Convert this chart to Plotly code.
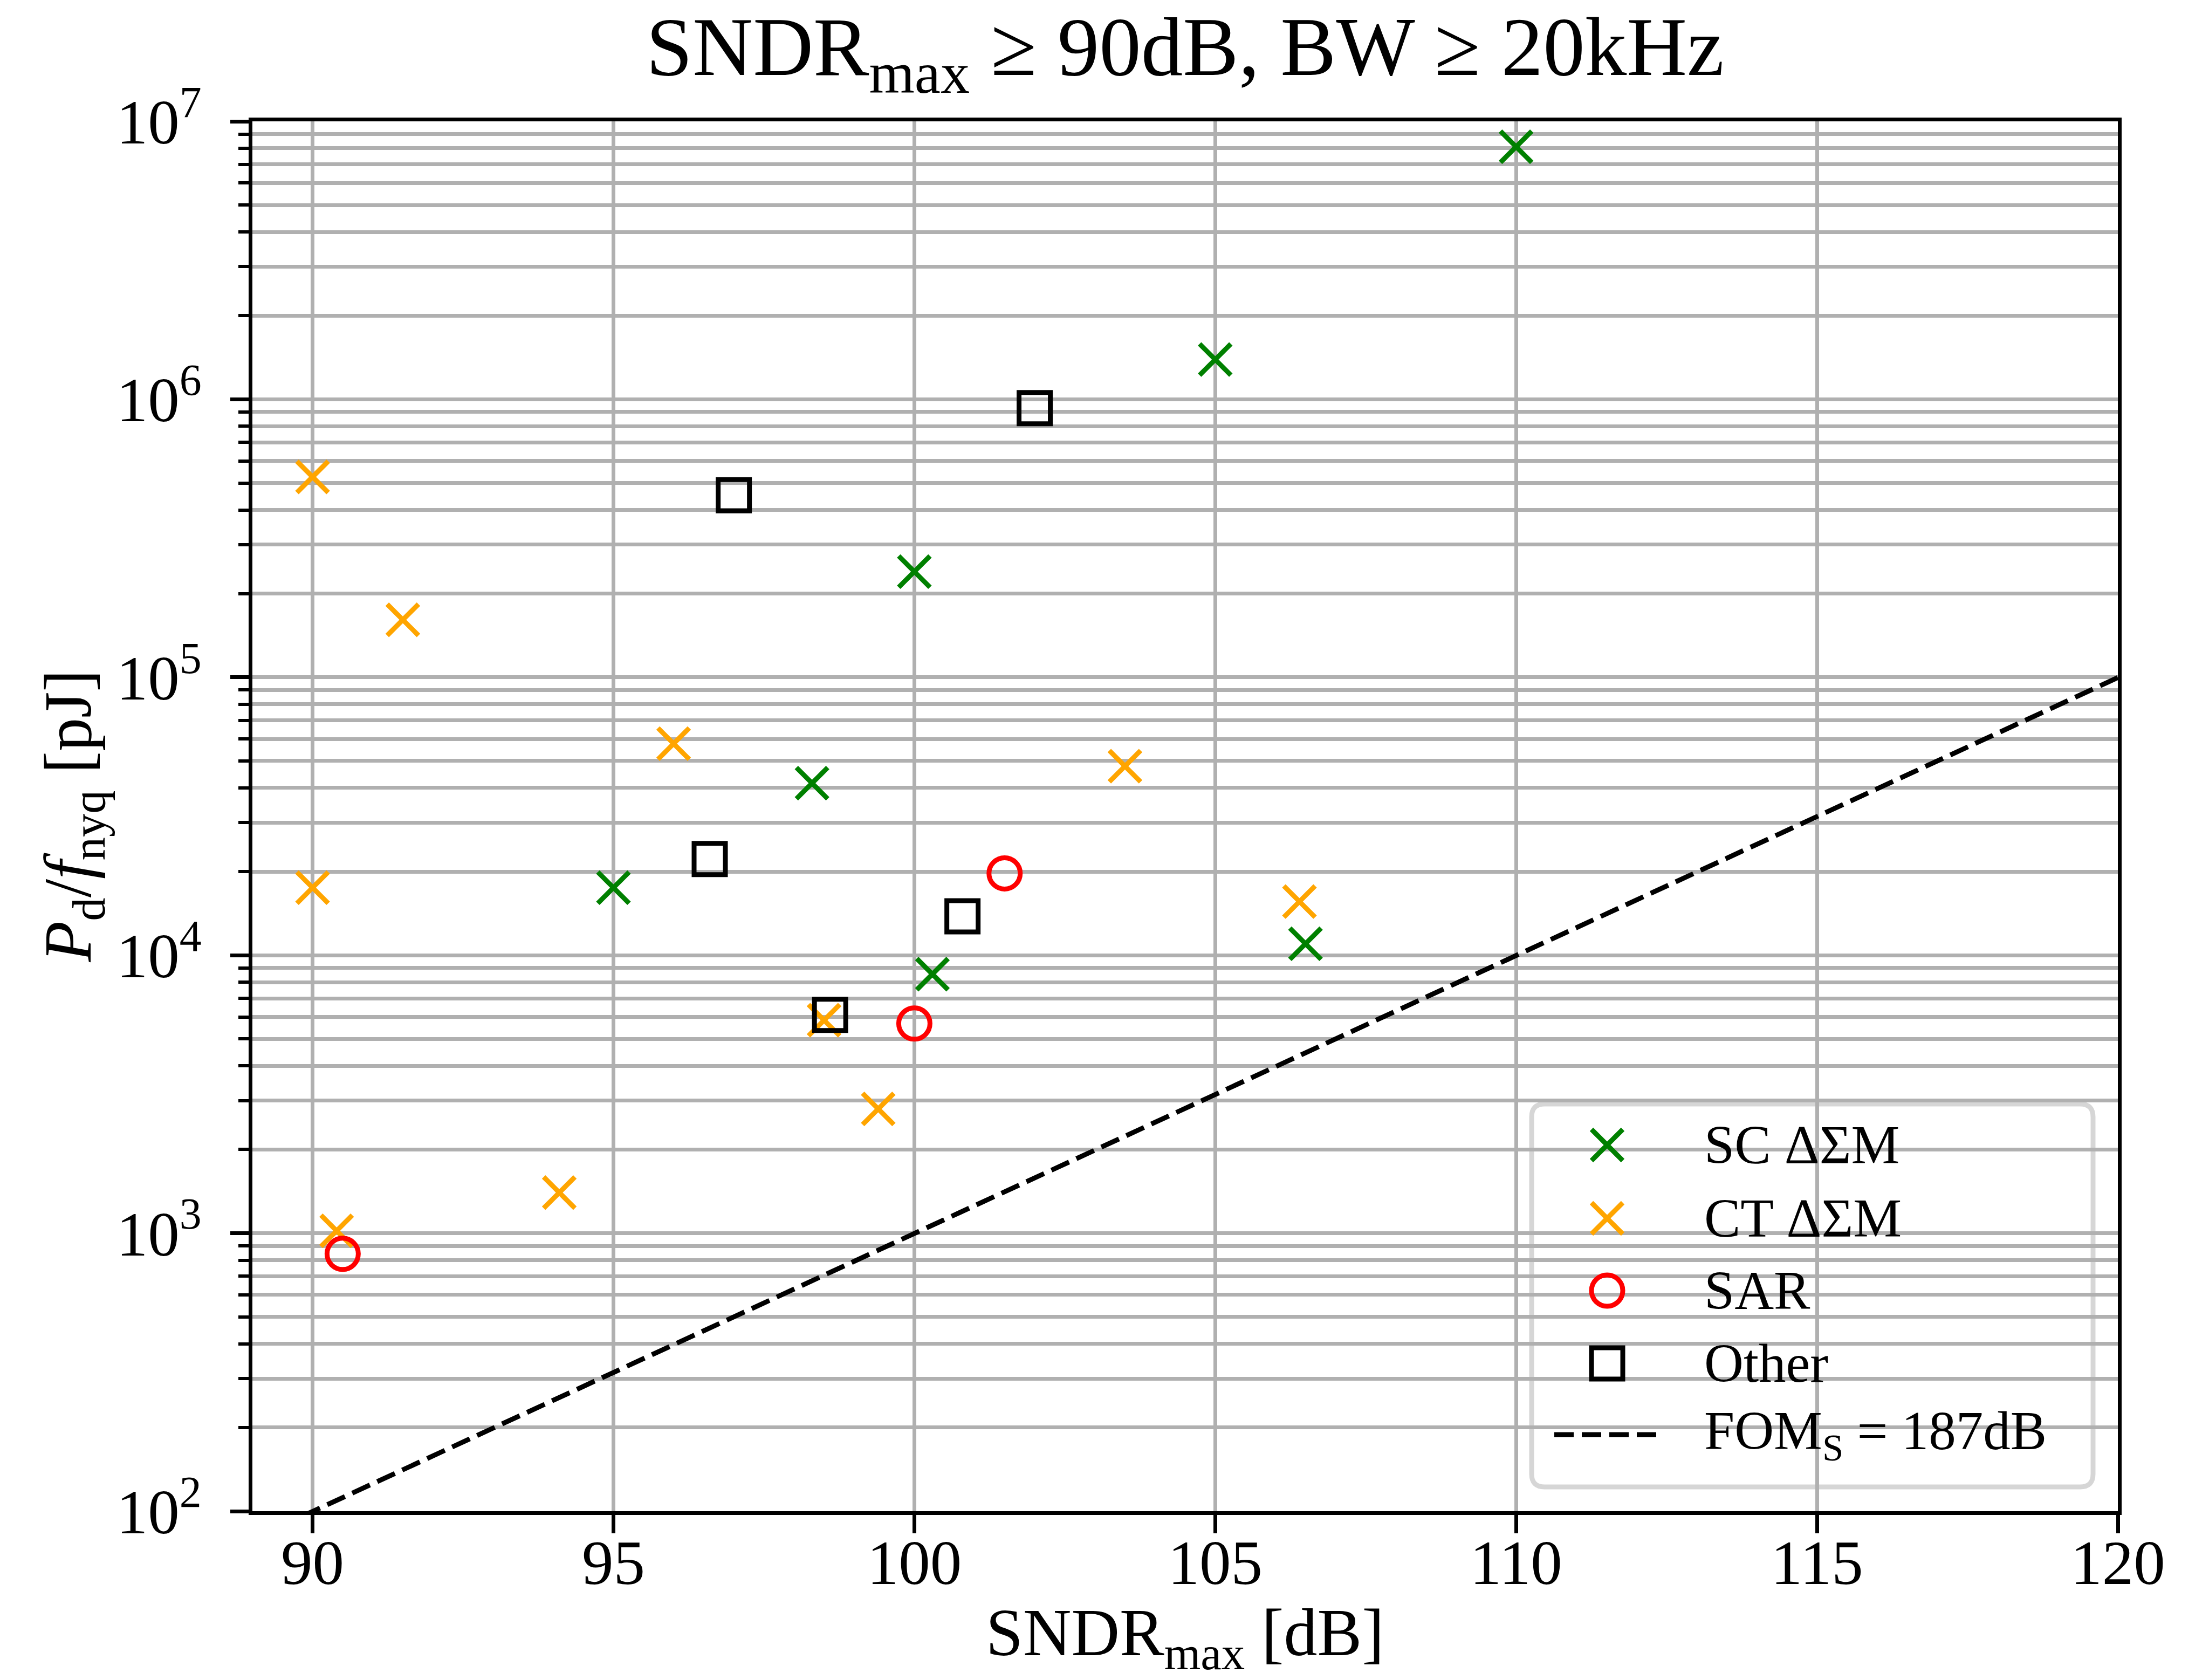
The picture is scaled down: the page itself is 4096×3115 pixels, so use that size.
import plotly.graph_objects as go

# SNDR_max [dB] and energy per Nyquist sample P_d/f_nyq [pJ], by architecture
sc_sndr = [110.0, 105.0, 100.0, 98.3, 95.0, 100.3, 106.5]
sc_energy = [8.1e6, 1.39e6, 2.4e5, 4.16e4, 1.75e4, 8.55e3, 1.1e4]

ct_sndr = [90.0, 91.5, 96.0, 90.0, 103.5, 106.4, 98.5, 99.4, 94.1, 90.4]
ct_energy = [5.26e5, 1.61e5, 5.77e4, 1.75e4, 4.79e4, 1.56e4, 5.84e3, 2.8e3, 1.4e3, 1.02e3]

sar_sndr = [90.5, 100.0, 101.5]
sar_energy = [843, 5.68e3, 1.97e4]

other_sndr = [102.0, 97.0, 96.6, 100.8, 98.6]
other_energy = [9.3e5, 4.52e5, 2.22e4, 1.38e4, 6.1e3]

fom_s = 187.0          # Schreier FOM of the reference line [dB]
x_range = [89, 120]
x_ticks = [90, 95, 100, 105, 110, 115, 120]
y_decades = [2, 3, 4, 5, 6, 7]

legend_labels = ["SC ΔΣM", "CT ΔΣM", "SAR", "Other", "FOM<sub>S</sub> = 187dB"]

# energy on the constant-FOM_S line: FOM_S = SNDR - 10 log10(2 E)
fom_sndr = list(x_range)
fom_energy = [10 ** ((s - fom_s) / 10) / 2 * 1e12 for s in fom_sndr]

# ---------------------------------------------------------------- layout
W, H = 4096, 3115
L, R, T, B = 468, 169, 225, 313
PW, PH = W - L - R, H - T - B

FONT = "Liberation Serif"
GRID = "#b0b0b0"
MS, MLW = 58, 9  # marker size / edge width


def px(xp):
    return (xp - L) / PW


def py(yp):
    return 1 - (yp - T) / PH


styles = [
    dict(symbol="x-thin-open", color="green"),
    dict(symbol="x-thin-open", color="orange"),
    dict(symbol="circle-open", color="red"),
    dict(symbol="square-open", color="black"),
]
series = [(sc_sndr, sc_energy), (ct_sndr, ct_energy),
          (sar_sndr, sar_energy), (other_sndr, other_energy)]

fig = go.Figure()
for (xs, ys), st in zip(series, styles):
    fig.add_trace(go.Scatter(
        x=xs, y=ys, mode="markers", showlegend=False, cliponaxis=False,
        marker=dict(symbol=st["symbol"], size=MS, color=st["color"],
                    line=dict(width=MLW, color=st["color"])),
    ))

fig.add_trace(go.Scatter(
    x=fom_sndr, y=fom_energy, mode="lines", showlegend=False,
    line=dict(color="black", width=9, dash="36px,15px"),
))

# --- hand-placed legend (pixel geometry on an overlay axis) ---
leg_l, leg_r, leg_t, leg_b, rad = 2840, 3881, 2047, 2757, 24
row_y = [2123, 2259, 2393, 2528, 2660]
sym_x, text_x = 2980, 3158

for st, yy in zip(styles, row_y[:4]):
    fig.add_trace(go.Scatter(
        x=[sym_x - L], y=[yy - T], xaxis="x2", yaxis="y2", mode="markers",
        showlegend=False, cliponaxis=False,
        marker=dict(symbol=st["symbol"], size=MS, color=st["color"],
                    line=dict(width=MLW, color=st["color"])),
    ))
fig.add_trace(go.Scatter(
    x=[2882 - L, 3071 - L], y=[row_y[4] - T] * 2, xaxis="x2", yaxis="y2",
    mode="lines", showlegend=False,
    line=dict(color="black", width=9, dash="36px,15px"),
))

path = (
    f"M {px(leg_l + rad)},{py(leg_t)} L {px(leg_r - rad)},{py(leg_t)} "
    f"Q {px(leg_r)},{py(leg_t)} {px(leg_r)},{py(leg_t + rad)} "
    f"L {px(leg_r)},{py(leg_b - rad)} Q {px(leg_r)},{py(leg_b)} {px(leg_r - rad)},{py(leg_b)} "
    f"L {px(leg_l + rad)},{py(leg_b)} Q {px(leg_l)},{py(leg_b)} {px(leg_l)},{py(leg_b - rad)} "
    f"L {px(leg_l)},{py(leg_t + rad)} Q {px(leg_l)},{py(leg_t)} {px(leg_l + rad)},{py(leg_t)} Z"
)
fig.add_shape(type="path", path=path, xref="paper", yref="paper", layer="between",
              fillcolor="rgba(255,255,255,0.8)",
              line=dict(color="rgba(204,204,204,0.8)", width=9))

annotations = []
for lab, yy in zip(legend_labels, row_y):
    annotations.append(dict(
        text=lab, x=px(text_x), y=py(yy), xref="paper", yref="paper",
        xanchor="left", yanchor="middle", showarrow=False,
        font=dict(family=FONT, size=101, color="black"),
    ))

# title and axis titles
annotations.append(dict(
    text="SNDR<sub>max</sub> ≥ 90dB, BW ≥ 20kHz", x=0.5, y=py(98),
    xref="paper", yref="paper", xanchor="center", yanchor="middle",
    showarrow=False, font=dict(family=FONT, size=155, color="black"),
))
annotations.append(dict(
    text="SNDR<sub>max</sub> [dB]", x=0.5, y=py(3036),
    xref="paper", yref="paper", xanchor="center", yanchor="middle",
    showarrow=False, font=dict(family=FONT, size=124, color="black"),
))
annotations.append(dict(
    text="<i>P</i><sub>d</sub>/<i>f</i><sub>nyq</sub> [pJ]", x=px(135), y=0.5,
    xref="paper", yref="paper", xanchor="center", yanchor="middle",
    textangle=-90, showarrow=False, font=dict(family=FONT, size=124, color="black"),
))

minor_vals = [k * 10 ** d for d in y_decades[:-1] for k in range(2, 10)]

fig.update_layout(
    width=W, height=H,
    margin=dict(l=L, r=R, t=T, b=B, pad=0),
    paper_bgcolor="white", plot_bgcolor="white",
    font=dict(family=FONT, color="black"),
    annotations=annotations,
    xaxis=dict(
        range=x_range, tickvals=x_ticks, ticks="outside", ticklen=34, tickwidth=7,
        tickcolor="black", showline=True, linecolor="black", linewidth=7, mirror=True,
        showgrid=True, gridcolor=GRID, gridwidth=7, zeroline=False,
        tickfont=dict(family=FONT, size=117, color="black"), ticklabelstandoff=-46,
    ),
    yaxis=dict(
        type="log", range=[y_decades[0], y_decades[-1]],
        tickvals=[10 ** d for d in y_decades],
        ticktext=[f"10<sup>{d}</sup>" for d in y_decades],
        ticks="outside", ticklen=34, tickwidth=7, tickcolor="black",
        showline=True, linecolor="black", linewidth=7, mirror=True,
        showgrid=True, gridcolor=GRID, gridwidth=7, zeroline=False,
        tickfont=dict(family=FONT, size=117, color="black"), ticklabelstandoff=30,
        minor=dict(tickvals=minor_vals, ticks="outside", ticklen=19, tickwidth=6,
                   tickcolor="black", showgrid=True, gridcolor=GRID, gridwidth=7),
    ),
    xaxis2=dict(overlaying="x", range=[0, PW], visible=False, fixedrange=True),
    yaxis2=dict(overlaying="y", range=[PH, 0], visible=False, fixedrange=True),
)

fig.write_html("out.html")
